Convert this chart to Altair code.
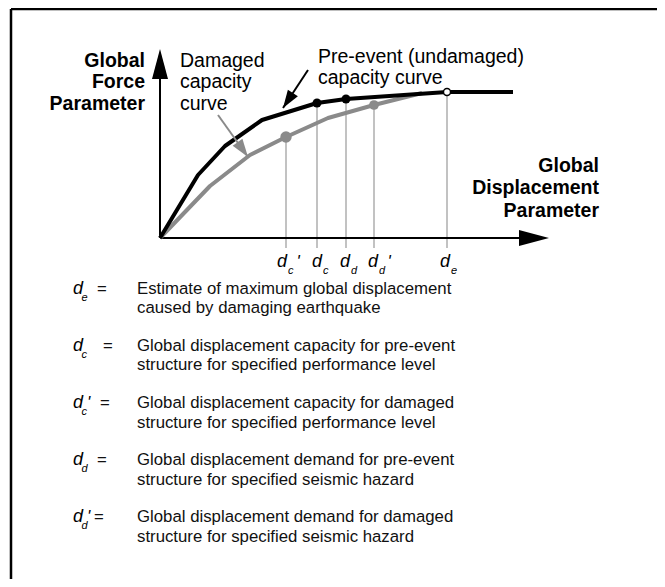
import math
import altair as alt
import pandas as pd

# ---------------- data (diagram units: displacement right of the origin, force above it)
pre_disp = [0, 38, 65, 102, 157, 186, 287, 353]
pre_force = [0, 63, 92, 118, 135, 139, 146, 146]

dam_disp = [0, 50, 90, 126, 168, 214, 262]
dam_force = [0, 52, 83, 101, 120, 133, 145]

marker_keys = ["dc'", "dc", "dd", "dd'", "de"]
marker_disp = [126, 157, 186, 214, 287]
marker_force = [101, 135, 139, 133, 146]
marker_kind = ["damaged", "pre", "pre", "damaged", "open"]

# axis labels below the displacement axis
label_sub = ["c", "c", "d", "d", "e"]
label_prime = ["'", "", "", "'", ""]
label_center = [122, 157, 185, 213, 285]

# legend / definitions
legend_sub = ["e", "c", "c", "d", "d"]
legend_prime = ["", "", "'", "", "'"]
legend_eq_x = [-63, -57, -60, -63, -66]
legend_line1 = [
    "Estimate of maximum global displacement",
    "Global displacement capacity for pre-event",
    "Global displacement capacity for damaged",
    "Global displacement demand for pre-event",
    "Global displacement demand for damaged",
]
legend_line2 = [
    "caused by damaging earthquake",
    "structure for specified performance level",
    "structure for specified performance level",
    "structure for specified seismic hazard",
    "structure for specified seismic hazard",
]
legend_base = [-55.5, -112.8, -170.0, -227.2, -284.4]

y_title = ["Global", "Force", "Parameter"]
x_title = ["Global", "Displacement", "Parameter"]
damaged_note = ["Damaged", "capacity", "curve"]
pre_note = ["Pre-event (undamaged)", "capacity curve"]

# annotation arrows: tail -> tip
arrow_tail_x = [148, 58]
arrow_tail_y = [168, 123]
arrow_tip_x = [123, 88]
arrow_tip_y = [130, 81]
arrow_color = ["black", "#8a8a8a"]

FONT = "Liberation Sans"
XD = [-152, 497]
YD = [-341, 230]


def X(f):
    return alt.X(f, type="quantitative", scale=alt.Scale(domain=XD, nice=False, zero=False), axis=None)


def Y(f):
    return alt.Y(f, type="quantitative", scale=alt.Scale(domain=YD, nice=False, zero=False), axis=None)


layers = []

# frame (left and top edges)
frame = pd.DataFrame({"x": [-149, -149], "y": [229, 229], "x2": [-149, 497], "y2": [-341, 229]})
layers.append(alt.Chart(frame).mark_rule(color="black", strokeWidth=2.5).encode(
    x=X("x"), y=Y("y"), x2="x2", y2="y2"))

# drop lines from markers to below the axis
drops = pd.DataFrame({"x": marker_disp, "y": marker_force, "y2": [-10] * 5})
layers.append(alt.Chart(drops).mark_rule(color="#c2c2c2", strokeWidth=2).encode(
    x=X("x"), y=Y("y"), y2="y2"))

# axes lines
axes = pd.DataFrame({"x": [0, 0], "y": [0, 0], "x2": [0, 362], "y2": [165, 0]})
layers.append(alt.Chart(axes).mark_rule(color="black", strokeWidth=2).encode(
    x=X("x"), y=Y("y"), x2="x2", y2="y2"))

# axis arrowheads
axis_heads = pd.DataFrame({"x": [0, 389], "y": [189, 0], "a": [0, 90]})
layers.append(alt.Chart(axis_heads).mark_point(
    shape="M0,0L-8,30L8,30Z", size=4, filled=True, opacity=1, color="black", strokeWidth=0
).encode(x=X("x"), y=Y("y"), angle=alt.Angle("a:Q", scale=None)))

# damaged curve
dam = pd.DataFrame({"x": dam_disp, "y": dam_force, "i": range(len(dam_disp))})
layers.append(alt.Chart(dam).mark_line(color="#8a8a8a", strokeWidth=4, strokeJoin="round").encode(
    x=X("x"), y=Y("y"), order="i:Q"))

# pre-event curve
pre = pd.DataFrame({"x": pre_disp, "y": pre_force, "i": range(len(pre_disp))})
layers.append(alt.Chart(pre).mark_line(color="black", strokeWidth=4, strokeJoin="round").encode(
    x=X("x"), y=Y("y"), order="i:Q"))

# markers
mk = pd.DataFrame({"x": marker_disp, "y": marker_force, "k": marker_kind, "key": marker_keys})
gray_sizes = {"dc'": 130, "dd'": 95}
mk_gray = mk[mk.k == "damaged"].copy()
mk_gray["s"] = mk_gray["key"].map(gray_sizes)
layers.append(alt.Chart(mk_gray).mark_circle(color="#8a8a8a", opacity=1).encode(
    x=X("x"), y=Y("y"), size=alt.Size("s:Q", scale=None)))
layers.append(alt.Chart(mk[mk.k == "pre"]).mark_circle(color="black", opacity=1, size=80).encode(
    x=X("x"), y=Y("y")))
layers.append(alt.Chart(mk[mk.k == "open"]).mark_point(
    shape="circle", size=50, filled=True, fill="white", stroke="black", strokeWidth=1.5, opacity=1
).encode(x=X("x"), y=Y("y")))

# annotation arrows
arr = pd.DataFrame({"x": arrow_tail_x, "y": arrow_tail_y, "x2": arrow_tip_x, "y2": arrow_tip_y,
                    "c": arrow_color})
arr["a"] = [
    (math.degrees(math.atan2(tx - sx, (ty - sy))) + 360) % 360
    for sx, sy, tx, ty in zip(arrow_tail_x, arrow_tail_y, arrow_tip_x, arrow_tip_y)
]
layers.append(alt.Chart(arr).mark_rule(strokeWidth=2).encode(
    x=X("x"), y=Y("y"), x2="x2", y2="y2", color=alt.Color("c:N", scale=None)))
layers.append(alt.Chart(arr).mark_point(
    shape="M0,0L-6,18L6,18Z", size=4, filled=True, opacity=1, strokeWidth=0
).encode(x=X("x2"), y=Y("y2"), angle=alt.Angle("a:Q", scale=None),
         color=alt.Color("c:N", scale=None)))

# bold axis titles (right aligned)
bold = pd.DataFrame({
    "t": y_title + x_title,
    "x": [-15] * 3 + [439] * 3,
    "y": [171, 150, 128, 66, 44, 21.5],
})
layers.append(alt.Chart(bold).mark_text(
    align="right", baseline="alphabetic", font=FONT, fontSize=19.5, fontWeight="bold", color="black"
).encode(x=X("x"), y=Y("y"), text="t:N"))

# curve notes
notes = pd.DataFrame({
    "t": damaged_note + pre_note,
    "x": [20] * 3 + [158] * 2,
    "y": [171, 150, 128, 175, 154],
})
layers.append(alt.Chart(notes).mark_text(
    align="left", baseline="alphabetic", font=FONT, fontSize=19.5, color="black"
).encode(x=X("x"), y=Y("y"), text="t:N"))

# italic "d" symbols: axis labels + legend
dmain = pd.DataFrame({
    "t": ["d"] * 10,
    "x": [c - 5 for c in label_center] + [-87] * 5,
    "y": [-29] * 5 + legend_base,
})
layers.append(alt.Chart(dmain).mark_text(
    align="left", baseline="alphabetic", font=FONT, fontSize=18, fontStyle="italic", color="black"
).encode(x=X("x"), y=Y("y"), text="t:N"))

# subscripts
dsub = pd.DataFrame({
    "t": label_sub + legend_sub,
    "x": [c + 6 for c in label_center] + [-78.5] * 5,
    "y": [-35.5] * 5 + [b - 7 for b in legend_base],
})
layers.append(alt.Chart(dsub).mark_text(
    align="left", baseline="alphabetic", font=FONT, fontSize=11, fontStyle="italic", color="black"
).encode(x=X("x"), y=Y("y"), text="t:N"))

# primes
pr_rows = []
for c, p in zip(label_center, label_prime):
    if p:
        pr_rows.append({"t": p, "x": c + 14.5, "y": -28.5})
for b, p in zip(legend_base, legend_prime):
    if p:
        pr_rows.append({"t": p, "x": -73, "y": b})
layers.append(alt.Chart(pd.DataFrame(pr_rows)).mark_text(
    align="left", baseline="alphabetic", font=FONT, fontSize=17, fontStyle="italic", color="black"
).encode(x=X("x"), y=Y("y"), text="t:N"))

# legend body text and "=" signs
body_rows = []
for ex, b, l1, l2 in zip(legend_eq_x, legend_base, legend_line1, legend_line2):
    body_rows.append({"t": "=", "x": ex, "y": b})
    body_rows.append({"t": l1, "x": -23, "y": b})
    body_rows.append({"t": l2, "x": -23, "y": b - 19.5})
layers.append(alt.Chart(pd.DataFrame(body_rows)).mark_text(
    align="left", baseline="alphabetic", font=FONT, fontSize=16.8, color="#111111"
).encode(x=X("x"), y=Y("y"), text="t:N"))

chart = alt.layer(*layers).properties(
    width=649, height=571, padding=0, autosize=alt.AutoSizeParams(type="none")
).configure_view(strokeWidth=0)

chart.save("out.html", embed_options={"renderer": "svg", "actions": False})
